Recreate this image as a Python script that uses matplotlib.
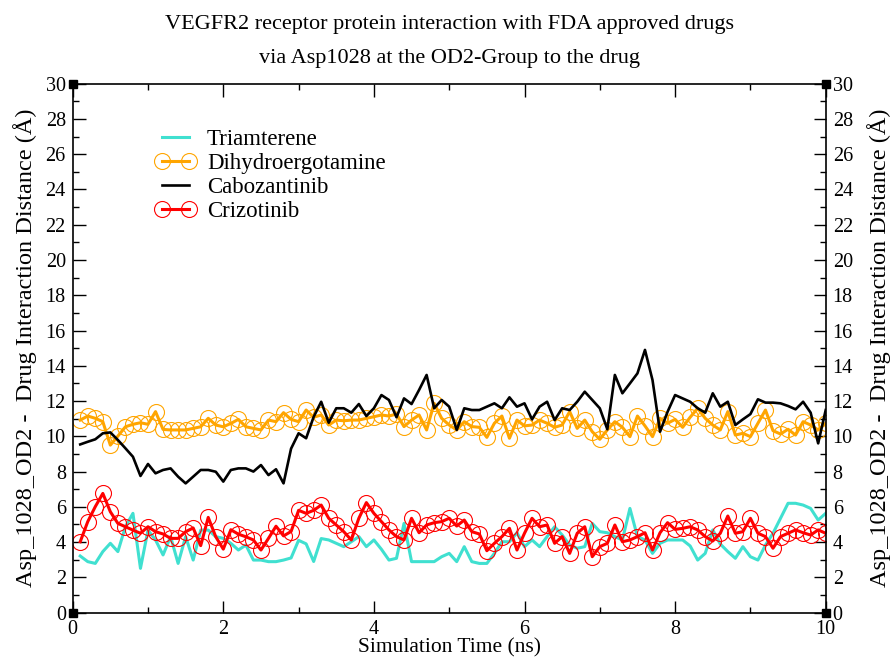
import numpy as np
import matplotlib
matplotlib.use('Agg')
import matplotlib.pyplot as plt

plt.rcParams['font.family'] = ['Liberation Serif', 'DejaVu Serif']

# one frame every 0.1 ns, 0.1 .. 10.0 ns
time_ns = np.round(np.arange(1, 101) * 0.1, 1)

triamterene = [
    3.21, 2.89, 2.79, 3.46, 3.93, 3.46, 4.87, 5.63, 2.51, 4.68,
    4.12, 3.27, 4.31, 2.79, 4.31, 2.98, 4.68, 4.68, 4.31, 4.21,
    3.93, 3.55, 3.83, 2.98, 2.98, 2.89, 2.89, 2.98, 3.10, 4.10,
    3.90, 2.90, 4.20, 4.12, 3.93, 3.74, 4.02, 4.31, 3.74, 4.12,
    3.59, 2.98, 3.08, 5.06, 2.89, 2.89, 2.89, 2.89, 3.17, 3.36,
    2.89, 3.74, 2.89, 2.79, 2.79, 3.36, 4.02, 4.02, 4.53, 3.74,
    4.12, 3.74, 4.31, 4.87, 4.40, 3.83, 3.65, 3.74, 5.06, 4.59,
    4.53, 4.31, 4.12, 5.91, 4.31, 4.12, 3.36, 3.93, 4.12, 4.12,
    4.12, 3.78, 2.98, 3.36, 4.69, 3.89, 3.46, 3.08, 3.74, 3.17,
    2.98, 3.83, 4.50, 5.35, 6.20, 6.20, 6.10, 5.91, 5.25, 5.63,
]

dihydroergotamine = [
    10.92, 11.15, 11.02, 10.83, 9.50, 10.01, 10.54, 10.68, 10.77, 10.68,
    11.40, 10.39, 10.36, 10.36, 10.36, 10.45, 10.54, 11.02, 10.64, 10.54,
    10.73, 10.96, 10.54, 10.45, 10.36, 10.92, 10.83, 11.34, 10.96, 10.83,
    11.49, 11.08, 11.21, 10.64, 10.92, 10.88, 10.92, 10.92, 11.02, 11.11,
    11.21, 11.15, 11.26, 10.55, 10.92, 11.21, 10.36, 11.87, 11.02, 10.64,
    10.36, 10.83, 10.55, 10.51, 9.94, 10.74, 11.15, 9.89, 10.92, 10.59,
    10.64, 10.92, 10.74, 10.51, 10.64, 11.40, 10.45, 10.92, 10.26, 9.83,
    10.36, 10.83, 10.51, 9.98, 11.15, 10.59, 9.98, 11.02, 10.74, 10.96,
    10.51, 11.08, 11.59, 11.02, 10.64, 10.36, 11.40, 10.07, 10.17, 9.98,
    10.74, 11.49, 10.32, 10.13, 10.40, 10.07, 10.83, 10.64, 10.36, 10.74,
]

cabozantinib = [
    9.54, 9.69, 9.83, 10.17, 10.22, 9.79, 9.32, 8.84, 7.75, 8.43,
    7.90, 8.09, 8.18, 7.71, 7.33, 7.71, 8.09, 8.09, 7.99, 7.43,
    8.09, 8.18, 8.18, 8.00, 8.37, 7.80, 8.13, 7.33, 9.30, 10.17,
    9.89, 11.10, 11.96, 10.77, 11.59, 11.59, 11.34, 11.83, 11.15, 11.59,
    12.34, 12.06, 11.08, 12.15, 11.83, 12.63, 13.48, 11.59, 12.06, 11.68,
    10.36, 11.59, 11.49, 11.49, 11.68, 11.87, 11.59, 12.21, 11.68, 11.87,
    10.96, 11.68, 11.96, 10.92, 11.59, 11.49, 11.96, 12.53, 12.06, 11.59,
    10.40, 13.48, 12.44, 13.00, 13.57, 14.90, 13.19, 10.26, 11.39, 12.34,
    12.15, 11.96, 11.59, 11.34, 12.44, 11.68, 11.96, 10.64, 10.96, 11.26,
    12.10, 11.91, 11.91, 11.87, 11.72, 11.53, 11.96, 11.34, 9.60, 11.49,
]

crizotinib = [
    4.02, 5.16, 6.01, 6.76, 5.72, 5.06, 4.87, 4.68, 4.50, 4.87,
    4.59, 4.46, 4.21, 4.21, 4.59, 4.80, 3.80, 5.40, 4.30, 3.60,
    4.70, 4.45, 4.30, 4.12, 3.55, 4.21, 4.90, 4.35, 4.60, 5.80,
    5.63, 5.80, 6.10, 5.35, 4.97, 4.59, 4.12, 5.35, 6.24, 5.63,
    5.16, 4.69, 4.31, 4.12, 5.35, 4.53, 4.97, 5.10, 5.16, 5.35,
    4.91, 5.25, 4.59, 4.46, 3.51, 3.93, 4.31, 4.78, 3.55, 4.50,
    5.35, 4.87, 4.97, 3.93, 4.31, 3.36, 4.50, 4.87, 3.17, 3.74,
    3.93, 4.97, 4.02, 4.12, 4.31, 4.53, 3.55, 4.53, 5.10, 4.72,
    4.78, 4.87, 4.69, 4.31, 4.06, 4.50, 5.48, 4.50, 4.59, 5.35,
    4.50, 4.31, 3.65, 4.31, 4.50, 4.69, 4.53, 4.40, 4.69, 4.50,
]

ylabel = 'Asp_1028_OD2 -  Drug Interaction Distance (Å)'

fig = plt.figure(figsize=(8.91, 6.59), dpi=100)
ax = fig.add_axes([72.7 / 891, 1 - 612.6 / 659, 753 / 891, 528.9 / 659])

ax.plot(time_ns, triamterene, color='#40E0D0', lw=2.2, label='Triamterene')
ax.plot(time_ns, dihydroergotamine, color='#FFA500', lw=2.2, marker='o', ms=11.5,
        mfc='none', mec='#FFA500', mew=0.8, label='Dihydroergotamine')
ax.plot(time_ns, cabozantinib, color='black', lw=1.9, label='Cabozantinib')
ax.plot(time_ns, crizotinib, color='red', lw=2.2, marker='o', ms=11.5,
        mfc='none', mec='red', mew=0.8, label='Crizotinib')

ax.set_xlim(0, 10)
ax.set_ylim(0, 30)
ax.set_xticks(np.arange(0, 11, 2))
ax.set_xticks(np.arange(0, 11, 1), minor=True)
ax.set_yticks(np.arange(0, 31, 2))
ax.set_yticks(np.arange(0, 31, 1), minor=True)
ax.tick_params(which='both', direction='in', top=True, right=True,
               labelright=True, labelsize=14.5, width=1)
ax.tick_params(which='major', length=9, pad=5)
ax.tick_params(which='minor', length=4.5)
for s in ax.spines.values():
    s.set_linewidth(1.2)

# small black squares at the frame corners (xmgrace style)
x0, x1 = ax.get_xlim()
y0, y1 = ax.get_ylim()
ax.plot([x0, x0, x1, x1], [y0, y1, y0, y1], ls='none', marker='s', ms=5.5,
        color='black', clip_on=False, zorder=5)

# axis labels
fig.text(449 / 891, 1 - 648 / 659, 'Simulation Time (ns)', ha='center', va='center',
         fontsize=15.5)
fig.text(25 / 891, 1 - 348 / 659, ylabel, rotation=90, ha='center', va='center',
         fontsize=17.5)
fig.text(879 / 891, 1 - 348 / 659, ylabel, rotation=90, ha='center', va='center',
         fontsize=17.5)

fig.text(449 / 891, 1 - 25 / 659, 'VEGFR2 receptor protein interaction with FDA approved drugs',
         ha='center', va='center', fontsize=16)
fig.text(449 / 891, 1 - 58 / 659, 'via Asp1028 at the OD2-Group to the drug',
         ha='center', va='center', fontsize=16)

ax.legend(loc='upper left', bbox_to_anchor=(0.11, 0.915), frameon=False, numpoints=2,
          fontsize=16.5, handlelength=1.75, handletextpad=0.5, labelspacing=0.14,
          borderaxespad=0, borderpad=0)

fig.savefig('out.png', dpi=100)
